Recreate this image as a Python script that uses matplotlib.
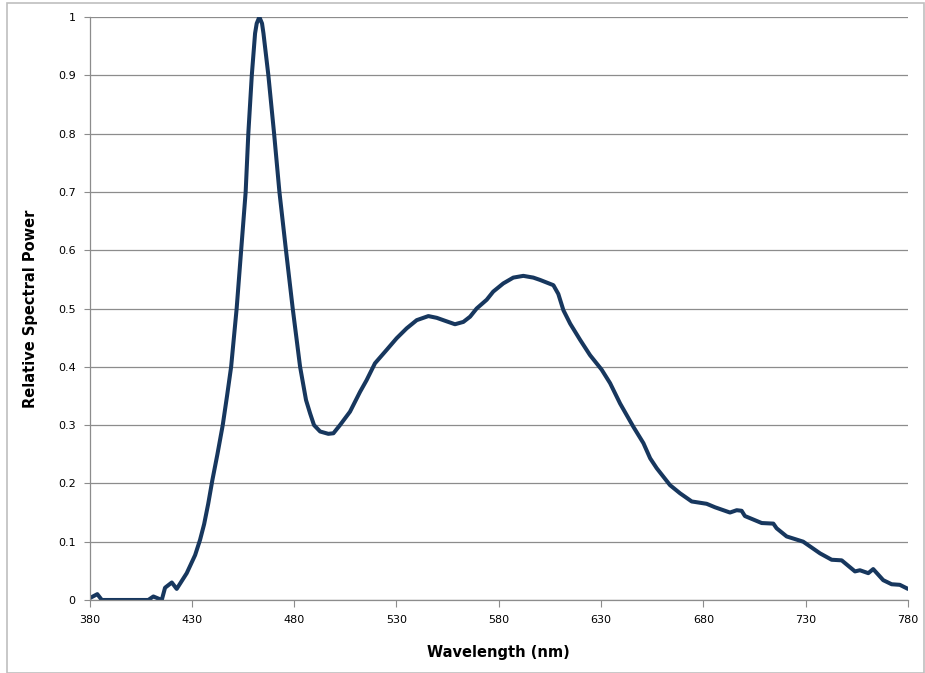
#!/usr/bin/env python3
# -*- coding: utf-8 -*-

import numpy
import matplotlib
matplotlib.use("Agg")
import matplotlib.pyplot as plt
from matplotlib.patches import Rectangle
from matplotlib.ticker import FormatStrFormatter

# Relative spectral power
wavelength = [380, 383.8, 386, 406.3, 408.7, 411.2, 415.3, 416.9, 420.2, 422.6,
              427.5, 431.6, 434, 436, 438, 440, 442.5, 445.1, 447.2, 449.2,
              451.9, 454.1, 456.3, 457.6, 459.3, 460.9, 461.7, 463, 464.3, 465,
              467.4, 470.2, 472.8, 476, 479.3, 482.9, 485.8, 487.8, 489.7, 492.7,
              496.7, 499.2, 502.4, 507.3, 512.2, 515.4, 519.5, 525.2, 530.1, 535,
              539.9, 545.6, 549.7, 553.7, 558.6, 562.7, 566, 569.2, 574.1, 577.3,
              582.2, 587.1, 592, 596.9, 600.2, 606.7, 609.1, 611.6, 614.9, 619.8,
              624.6, 630.3, 634.4, 639.3, 645.8, 650.7, 654, 657.2, 663.7, 668.6,
              674.3, 681.6, 685.7, 693, 696.3, 698.7, 700.3, 708.5, 714.2, 715.8,
              720.7, 728.8, 737, 742.7, 747.6, 754.1, 756.5, 760.6, 763, 767.9,
              772, 776, 780]
power = [0.003, 0.010, 0.0, 0.0, 0.0, 0.006, 0.0, 0.021, 0.030, 0.019,
         0.046, 0.077, 0.103, 0.130, 0.165, 0.205, 0.250, 0.300, 0.350, 0.400,
         0.500, 0.600, 0.700, 0.800, 0.900, 0.972, 0.989, 1.0, 0.989, 0.972,
         0.900, 0.800, 0.700, 0.600, 0.500, 0.400, 0.343, 0.320, 0.300, 0.289,
         0.285, 0.286, 0.300, 0.323, 0.357, 0.377, 0.406, 0.429, 0.449, 0.466,
         0.480, 0.487, 0.484, 0.479, 0.473, 0.477, 0.486, 0.500, 0.515, 0.529,
         0.543, 0.553, 0.556, 0.553, 0.549, 0.540, 0.525, 0.497, 0.474, 0.446,
         0.420, 0.395, 0.372, 0.337, 0.297, 0.269, 0.243, 0.226, 0.197, 0.183,
         0.169, 0.165, 0.159, 0.150, 0.154, 0.153, 0.144, 0.132, 0.131, 0.123,
         0.109, 0.100, 0.080, 0.069, 0.068, 0.049, 0.051, 0.046, 0.053, 0.034,
         0.027, 0.026, 0.019]

x_ticks = [380, 430, 480, 530, 580, 630, 680, 730, 780]
y_ticks = numpy.arange(0, 1.01, 0.1)

fig = plt.figure(figsize=(9.25, 6.73), dpi=100)
axes = fig.add_axes([0.0968, 0.1085, 0.8848, 0.8662])

axes.plot(wavelength, power, color="#17375E", linewidth=2.9,
          solid_joinstyle="round", solid_capstyle="round")

axes.set_xlim(380, 780)
axes.set_ylim(0, 1)
axes.set_xticks(x_ticks)
axes.set_yticks(y_ticks)
axes.yaxis.set_major_formatter(FormatStrFormatter("%g"))
axes.grid(axis="y", color="#8C8C8C", linewidth=0.9)
axes.set_axisbelow(True)

for side in ["top", "right"]:
    axes.spines[side].set_visible(False)
for side in ["left", "bottom"]:
    axes.spines[side].set_color("#8C8C8C")
    axes.spines[side].set_linewidth(0.9)

axes.tick_params(axis="x", direction="out", length=5, color="#8C8C8C", labelsize=8, pad=6)
axes.tick_params(axis="y", direction="out", length=4, color="#8C8C8C", labelsize=8, pad=6)

axes.set_xlabel("Wavelength (nm)", fontsize=10.5, fontweight="bold", labelpad=14)
axes.set_ylabel("Relative Spectral Power", fontsize=10.5, fontweight="bold", labelpad=14)

# chart area border
fig.patches.append(Rectangle((7 / 925, 0.0), 917 / 925, 1 - 3 / 673, transform=fig.transFigure,
                             fill=False, edgecolor="#BFBFBF", linewidth=1.2))

plt.savefig("out.png", dpi=100)
